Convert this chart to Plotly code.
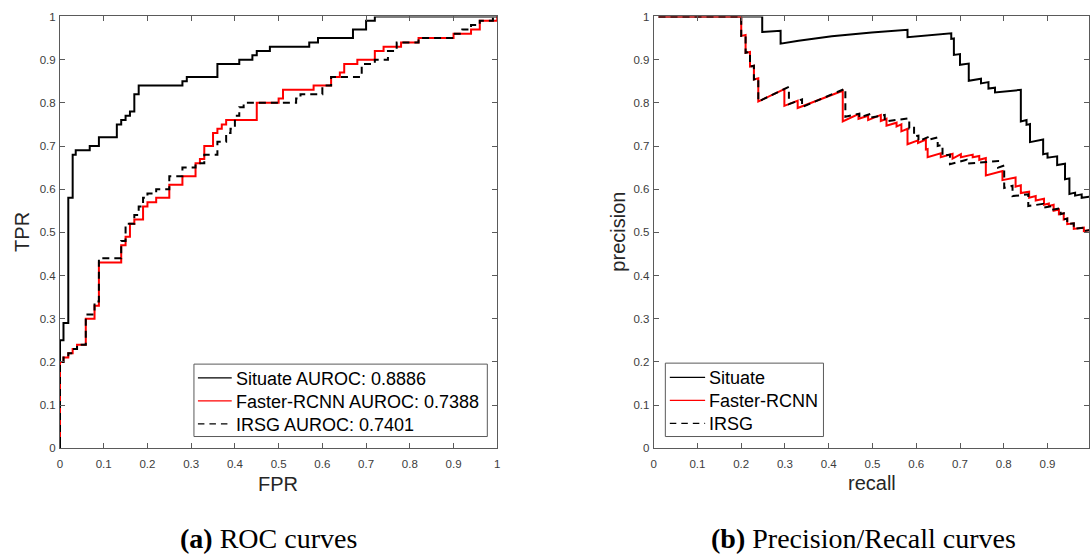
import plotly.graph_objects as go

# ---------------- ROC data (step curves) ----------------
roc_situate_fpr = [0, 0, 0.008, 0.019, 0.029, 0.036, 0.068, 0.089, 0.13, 0.14, 0.15, 0.16, 0.17, 0.18,
                   0.28, 0.29, 0.36, 0.41, 0.44, 0.45, 0.48, 0.57, 0.59, 0.67, 0.70, 0.72, 1.0]
roc_situate_tpr = [0, 0.25, 0.29, 0.58, 0.68, 0.69, 0.70, 0.72, 0.75, 0.76, 0.77, 0.78, 0.82, 0.84,
                   0.85, 0.86, 0.89, 0.90, 0.91, 0.92, 0.93, 0.94, 0.95, 0.97, 0.99, 1.0, 1.0]

roc_frcnn_fpr = [0, 0, 0.008, 0.019, 0.029, 0.039, 0.059, 0.079, 0.089,
                 0.14, 0.15, 0.16, 0.17, 0.19, 0.20, 0.22, 0.25, 0.28,
                 0.31, 0.32, 0.33, 0.35, 0.36, 0.37, 0.38, 0.45,
                 0.50, 0.51, 0.58, 0.62, 0.64, 0.65, 0.68, 0.72,
                 0.74, 0.78, 0.82, 0.90, 0.94, 0.96, 1.0]
roc_frcnn_tpr = [0.01, 0.20, 0.21, 0.22, 0.23, 0.24, 0.30, 0.33, 0.43,
                 0.47, 0.49, 0.52, 0.53, 0.56, 0.57, 0.58, 0.61, 0.63,
                 0.66, 0.67, 0.70, 0.73, 0.74, 0.75, 0.76, 0.80,
                 0.81, 0.83, 0.84, 0.86, 0.87, 0.89, 0.90, 0.92,
                 0.93, 0.94, 0.95, 0.96, 0.97, 0.99, 1.0]

roc_irsg_fpr = [0, 0, 0.008, 0.019, 0.029, 0.039, 0.059, 0.079, 0.089,
                0.14, 0.15, 0.17, 0.18, 0.19, 0.20, 0.22, 0.25, 0.28,
                0.31, 0.33, 0.36, 0.38, 0.39, 0.40, 0.41, 0.42,
                0.54, 0.55, 0.60, 0.62, 0.69, 0.72, 0.75, 0.77,
                0.82, 0.90, 0.92, 0.94, 0.96, 0.99, 1.0]
roc_irsg_tpr = [0.01, 0.20, 0.21, 0.22, 0.23, 0.24, 0.31, 0.34, 0.44,
                0.48, 0.52, 0.54, 0.56, 0.58, 0.59, 0.60, 0.63, 0.65,
                0.66, 0.68, 0.71, 0.73, 0.74, 0.77, 0.79, 0.80,
                0.81, 0.82, 0.84, 0.86, 0.89, 0.90, 0.92, 0.94,
                0.95, 0.96, 0.97, 0.98, 0.99, 1.0, 1.0]

# ---------------- Precision / Recall data (vertices) ----------------
pr_situate_recall = [0.011, 0.248, 0.248, 0.29, 0.29, 0.331, 0.407, 0.498, 0.58, 0.58, 0.68, 0.68,
                     0.686, 0.686, 0.70, 0.70, 0.72, 0.72, 0.748, 0.748, 0.765, 0.765, 0.78, 0.78,
                     0.839, 0.839, 0.852, 0.852, 0.86, 0.86, 0.89, 0.89, 0.90, 0.90, 0.922, 0.922,
                     0.94, 0.94, 0.95, 0.95, 0.963, 0.963, 0.978, 0.978, 1.0]
pr_situate_prec = [1.0, 1.0, 0.964, 0.967, 0.937, 0.944, 0.954, 0.963, 0.969, 0.952, 0.961, 0.948,
                   0.949, 0.911, 0.913, 0.888, 0.891, 0.851, 0.856, 0.845, 0.848, 0.833, 0.835, 0.824,
                   0.830, 0.757, 0.760, 0.749, 0.751, 0.709, 0.715, 0.681, 0.683, 0.673, 0.676, 0.656,
                   0.659, 0.623, 0.625, 0.589, 0.592, 0.585, 0.588, 0.580, 0.583]

pr_frcnn_recall = [0.011, 0.200, 0.200, 0.210, 0.210, 0.220, 0.220, 0.229, 0.229, 0.239, 0.239,
                   0.2986, 0.2986, 0.329, 0.329, 0.432, 0.432, 0.468, 0.468, 0.490, 0.490,
                   0.519, 0.519, 0.532, 0.532, 0.555, 0.555, 0.566, 0.566, 0.580, 0.580,
                   0.604, 0.604, 0.622, 0.622, 0.626, 0.626, 0.656, 0.656, 0.683, 0.683,
                   0.702, 0.702, 0.729, 0.729, 0.744, 0.744, 0.759, 0.759, 0.797, 0.797,
                   0.827, 0.827, 0.839, 0.839, 0.858, 0.858, 0.873, 0.873, 0.892, 0.892,
                   0.903, 0.903, 0.914, 0.914, 0.926, 0.926, 0.937, 0.937, 0.945, 0.945,
                   0.960, 0.960, 0.983, 0.983, 1.0]
pr_frcnn_prec = [1.0, 1.0, 0.955, 0.957, 0.916, 0.918, 0.884, 0.886, 0.854, 0.857, 0.803,
                 0.832, 0.793, 0.805, 0.788, 0.828, 0.757, 0.774, 0.763, 0.770, 0.760,
                 0.772, 0.758, 0.763, 0.747, 0.754, 0.745, 0.750, 0.734, 0.740, 0.704,
                 0.713, 0.707, 0.715, 0.692, 0.693, 0.674, 0.683, 0.674, 0.682, 0.671,
                 0.681, 0.674, 0.680, 0.674, 0.677, 0.668, 0.672, 0.632, 0.642, 0.621,
                 0.627, 0.606, 0.609, 0.591, 0.594, 0.580, 0.584, 0.574, 0.578, 0.564,
                 0.567, 0.561, 0.564, 0.550, 0.553, 0.542, 0.544, 0.530, 0.532, 0.519,
                 0.521, 0.508, 0.511, 0.503, 0.506]

pr_irsg_recall = [0.011, 0.200, 0.200, 0.210, 0.210, 0.220, 0.220, 0.229, 0.229, 0.239, 0.239,
                  0.2986, 0.309, 0.309, 0.339, 0.339, 0.438, 0.438, 0.470, 0.470, 0.497, 0.497,
                  0.528, 0.528, 0.584, 0.584, 0.595, 0.595, 0.605, 0.605, 0.630, 0.630,
                  0.649, 0.649, 0.660, 0.660, 0.677, 0.677, 0.715, 0.715, 0.787, 0.787,
                  0.801, 0.801, 0.820, 0.820, 0.856, 0.856, 0.890, 0.890, 0.910, 0.910,
                  0.930, 0.930, 0.937, 0.937, 0.945, 0.945, 0.960, 0.960, 0.983, 0.983, 1.0]
pr_irsg_prec = [1.0, 1.0, 0.955, 0.957, 0.916, 0.918, 0.884, 0.886, 0.854, 0.857, 0.803,
                0.832, 0.837, 0.797, 0.808, 0.790, 0.833, 0.768, 0.775, 0.766, 0.775, 0.766,
                0.772, 0.757, 0.764, 0.741, 0.745, 0.722, 0.724, 0.711, 0.722, 0.715,
                0.720, 0.700, 0.703, 0.677, 0.680, 0.658, 0.668, 0.659, 0.665, 0.650,
                0.655, 0.603, 0.608, 0.584, 0.588, 0.561, 0.566, 0.557, 0.561, 0.552,
                0.556, 0.542, 0.544, 0.530, 0.532, 0.519, 0.521, 0.508, 0.511, 0.503, 0.506]

roc_names = ["Situate AUROC: 0.8886", "Faster-RCNN AUROC: 0.7388", "IRSG AUROC: 0.7401"]
pr_names = ["Situate", "Faster-RCNN", "IRSG"]

W, H = 1092, 557
BLACK, RED = "#000000", "#ff0000"
DASH = "7px,5px"
LW = 2
STYLES = [dict(color=BLACK, width=LW), dict(color=RED, width=LW), dict(color=BLACK, width=LW, dash=DASH)]
LEG_STYLES = [dict(color=BLACK, width=1.3), dict(color=RED, width=1.3),
              dict(color=BLACK, width=1.3, dash="6.5px,5px")]


def xp(px):
    return px / W


def yp(py):
    return 1 - py / H


fig = go.Figure()

roc_series = [(roc_situate_fpr, roc_situate_tpr), (roc_frcnn_fpr, roc_frcnn_tpr), (roc_irsg_fpr, roc_irsg_tpr)]
for (xs, ys), name, st in zip(roc_series, roc_names, STYLES):
    fig.add_trace(go.Scatter(x=xs, y=ys, mode="lines", name=name, line=dict(shape="hv", **st),
                             xaxis="x", yaxis="y", showlegend=False))

pr_series = [(pr_situate_recall, pr_situate_prec), (pr_frcnn_recall, pr_frcnn_prec),
             (pr_irsg_recall, pr_irsg_prec)]
for (xs, ys), name, st in zip(pr_series, pr_names, STYLES):
    fig.add_trace(go.Scatter(x=xs, y=ys, mode="lines", name=name, line=st,
                             xaxis="x2", yaxis="y2", showlegend=False))

AXC = "#5a5a5a"
TICKF = dict(family="Liberation Sans, Arial, sans-serif", size=11.5, color="#3c3c3c")
ax_common = dict(showline=True, linecolor=AXC, linewidth=1, mirror="ticks", ticks="inside", ticklen=5,
                 tickcolor=AXC, tickwidth=1, showgrid=False, zeroline=False, tickfont=TICKF,
                 tick0=0, dtick=0.1, fixedrange=True)

y0, y1 = yp(452), yp(10.7)
fig.update_layout(
    width=W, height=H, autosize=False,
    margin=dict(l=0, r=0, t=0, b=0),
    paper_bgcolor="white", plot_bgcolor="white",
    xaxis=dict(domain=[xp(57.3), xp(497)], range=[0, 1], anchor="y", ticklabelstandoff=5, **ax_common),
    yaxis=dict(domain=[y0, y1], range=[0, 1], anchor="x", ticklabelstandoff=1, **ax_common),
    xaxis2=dict(domain=[xp(654.3), 1.0], range=[0, (W - 654.3) / 440], anchor="y2", ticklabelstandoff=5,
                **ax_common),
    yaxis2=dict(domain=[y0, y1], range=[0, 1], anchor="x2", ticklabelstandoff=1, **ax_common),
    showlegend=False,
)

# ---------- hand-drawn legends (box, line samples, labels) ----------
LEGF = dict(family="Liberation Sans, Arial, sans-serif", size=18, color="#000000")
shapes = []
annotations = []


def add_legend(box, line_x, text_x, rows, names):
    x0, y0_, x1, y1_ = box
    shapes.append(dict(type="rect", xref="paper", yref="paper", x0=xp(x0), x1=xp(x1), y0=yp(y0_), y1=yp(y1_),
                       line=dict(color=AXC, width=1), fillcolor="white", layer="above"))
    for ry, name, st in zip(rows, names, LEG_STYLES):
        shapes.append(dict(type="line", xref="paper", yref="paper", x0=xp(line_x[0]), x1=xp(line_x[1]),
                           y0=yp(ry), y1=yp(ry), line=st, layer="above"))
        annotations.append(dict(text=name, x=xp(text_x), y=yp(ry + 1), xref="paper", yref="paper",
                                showarrow=False, xanchor="left", yanchor="middle", font=LEGF))


add_legend((192, 366, 487, 440), (196, 230), 232.5, [380, 403.5, 427], roc_names)
add_legend((666, 365, 825, 440), (670.5, 706), 707.5, [379.5, 403, 426.5], pr_names)

title_font = dict(family="Liberation Sans, Arial, sans-serif", size=20, color="#262626")
caption_font = dict(family="Liberation Serif, Times New Roman, serif", size=28, color="#000000")
annotations += [
    dict(text="FPR", x=xp(277), y=yp(489), xref="paper", yref="paper", showarrow=False,
         xanchor="center", yanchor="middle", font=title_font),
    dict(text="TPR", x=xp(19), y=yp(231), xref="paper", yref="paper", showarrow=False,
         xanchor="center", yanchor="middle", font=title_font, textangle=-90),
    dict(text="recall", x=xp(874), y=yp(488), xref="paper", yref="paper", showarrow=False,
         xanchor="center", yanchor="middle", font=title_font),
    dict(text="precision", x=xp(618), y=yp(231), xref="paper", yref="paper", showarrow=False,
         xanchor="center", yanchor="middle", font=title_font, textangle=-90),
    dict(text="<b>(a)</b> ROC curves", x=xp(267), y=yp(544), xref="paper", yref="paper",
         showarrow=False, xanchor="center", yanchor="middle", font=caption_font),
    dict(text="<b>(b)</b> Precision/Recall curves", x=xp(865), y=yp(544), xref="paper", yref="paper",
         showarrow=False, xanchor="center", yanchor="middle", font=caption_font),
]
fig.update_layout(shapes=shapes, annotations=annotations)

fig.write_html("out.html", config={"displayModeBar": False})
